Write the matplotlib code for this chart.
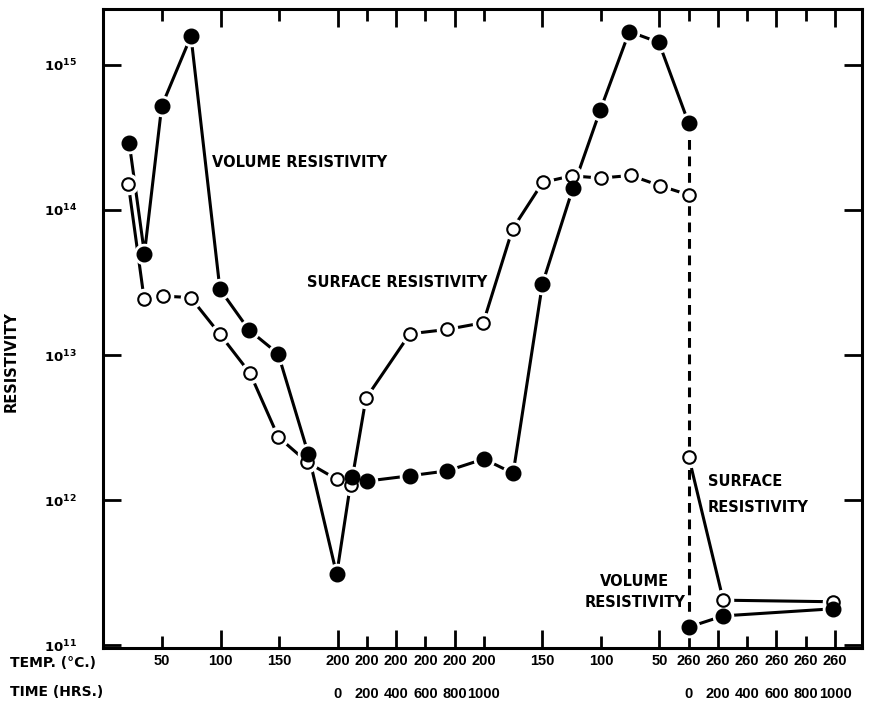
import matplotlib
matplotlib.use("Agg")
import matplotlib.pyplot as plt
from matplotlib.ticker import NullLocator

# ============================================================
# DATOS (eje x = posición en la secuencia de ensayo:
# 1 unidad = 200 h, 2 unidades = escalón de 50 °C)
# ============================================================
VOL_X = [0.88, 1.40, 1.99, 2.99, 3.98, 4.97, 5.97, 7.00, 7.97, 8.48, 8.99,
         10.47, 11.75, 13.00, 14.00, 15.00, 16.04, 16.98, 17.97, 18.98, 20.00,
         20.00, 21.18, 24.94]
VOL_R = [2.9e14, 5.0e13, 5.2e14, 1.58e15, 2.84e13, 1.49e13, 1.02e13, 2.08e12,
         3.07e11, 1.45e12, 1.35e12, 1.47e12, 1.59e12, 1.92e12, 1.53e12,
         3.09e13, 1.41e14, 4.9e14, 1.70e15, 1.43e15, 3.96e14,
         1.33e11, 1.59e11, 1.78e11]

SURF_X = [0.85, 1.39, 2.02, 2.98, 3.98, 5.01, 5.97, 6.97, 7.97, 8.46, 8.97,
          10.47, 11.73, 12.98, 13.98, 15.01, 16.00, 16.99, 18.02, 19.02, 20.00,
          20.00, 21.18, 24.94]
SURF_R = [1.51e14, 2.43e13, 2.55e13, 2.49e13, 1.39e13, 7.48e12, 2.73e12,
          1.82e12, 1.39e12, 1.26e12, 5.03e12, 1.40e13, 1.50e13, 1.67e13,
          7.40e13, 1.55e14, 1.72e14, 1.66e14, 1.73e14, 1.47e14, 1.27e14,
          1.99e12, 2.04e11, 1.99e11]

BREAK = 21  # a partir de aquí: ensayo a 260 °C (caída en línea discontinua)

TICK_POS = [2, 4, 6, 8, 9, 10, 11, 12, 13, 15, 17, 19, 20, 21, 22, 23, 24, 25]
TEMP_LABELS = ["50", "100", "150", "200", "200", "200", "200", "200", "200",
               "150", "100", "50", "260", "260", "260", "260", "260", "260"]
TIME_LABELS = ["", "", "", "0", "200", "400", "600", "800", "1000",
               "", "", "", "0", "200", "400", "600", "800", "1000"]
LONG_TICKS = [4, 8, 10, 12, 15, 19, 21, 23, 25]

Y_TICKS = [1e11, 1e12, 1e13, 1e14, 1e15]
Y_LABELS = ["$10^{11}$", "$10^{12}$", "$10^{13}$", "$10^{14}$", "$10^{15}$"]

# ============================================================
# ESTILO
# ============================================================
plt.rcParams["font.family"] = ["DejaVu Sans"]
plt.rcParams["font.weight"] = "bold"
plt.rcParams["mathtext.default"] = "bf"
TICK_FONT = ["Liberation Sans", "DejaVu Sans"]
LW = 2.2


def draw_series(ax, xs, ys, filled):
    # trazo continuo con corte en la caída vertical
    ax.plot(xs[:BREAK], ys[:BREAK], color="black", lw=LW, zorder=2,
            solid_capstyle="butt")
    ax.plot(xs[BREAK:], ys[BREAK:], color="black", lw=LW, zorder=2,
            solid_capstyle="butt")
    # halo blanco para dejar el hueco entre línea y marcador
    ax.plot(xs, ys, ls="none", marker="o", ms=14.5, mfc="white", mec="white",
            zorder=3)
    if filled:
        ax.plot(xs, ys, ls="none", marker="o", ms=10.5, mfc="black",
                mec="black", zorder=5)
    else:
        ax.plot(xs, ys, ls="none", marker="o", ms=9, mfc="white",
                mec="black", mew=1.5, zorder=4)


fig = plt.figure(figsize=(8.71, 7.12), dpi=100)
ax = fig.add_axes([0.1188, 0.0899, 0.8708, 0.8975])
ax.set_yscale("log")
ax.set_xlim(0, 25.92)
ax.set_ylim(10 ** 10.98, 10 ** 15.386)

# caída vertical discontinua al pasar a 260 °C
ax.plot(VOL_X[BREAK - 1:BREAK + 1], VOL_R[BREAK - 1:BREAK + 1], color="black",
        lw=LW, ls=(0, (3.2, 2.2)), zorder=2)

draw_series(ax, SURF_X, SURF_R, filled=False)
draw_series(ax, VOL_X, VOL_R, filled=True)

# ejes
for sp in ax.spines.values():
    sp.set_linewidth(2.2)

labels = [f"{t}\n{h}" if h else t for t, h in zip(TEMP_LABELS, TIME_LABELS)]
major = [(p, l) for p, l in zip(TICK_POS, labels) if p in LONG_TICKS]
minor = [(p, l) for p, l in zip(TICK_POS, labels) if p not in LONG_TICKS]
ax.set_xticks([p for p, _ in major], [l for _, l in major])
ax.set_xticks([p for p, _ in minor], [l for _, l in minor], minor=True)
ax.tick_params(axis="x", which="major", direction="in", length=13, width=2,
               top=True, pad=4)
ax.tick_params(axis="x", which="minor", direction="in", length=8.5, width=2,
               top=True, pad=4)
for lbl in ax.get_xticklabels() + ax.get_xticklabels(minor=True):
    lbl.set_family(TICK_FONT)
    lbl.set_fontsize(10.5)
    lbl.set_fontweight("bold")
    lbl.set_linespacing(2.8)

ax.set_yticks(Y_TICKS, Y_LABELS)
ax.yaxis.set_minor_locator(NullLocator())
ax.tick_params(axis="y", which="major", direction="in", length=13, width=2,
               right=True, pad=19, labelsize=9.5)

ax.set_ylabel("RESISTIVITY", fontsize=10.5, fontweight="bold")
ax.yaxis.set_label_coords(-0.112, 0.448)

fig.text(10 / 871, 1 - 663 / 712, "TEMP. (°C.)", fontsize=10,
         fontweight="bold", va="center", ha="left")
fig.text(10 / 871, 1 - 692 / 712, "TIME (HRS.)", fontsize=10,
         fontweight="bold", va="center", ha="left")

# rótulos de las curvas
ax.text(3.72, 2.11e14, "VOLUME RESISTIVITY", fontsize=10.5, fontweight="bold",
        va="center", ha="left")
ax.text(6.96, 3.14e13, "SURFACE RESISTIVITY", fontsize=10.5,
        fontweight="bold", va="center", ha="left")
ax.text(20.66, 1.09e12, "SURFACE\nRESISTIVITY", fontsize=10.5,
        fontweight="bold", va="center", ha="left", linespacing=1.9)
ax.text(18.16, 2.32e11, "VOLUME\nRESISTIVITY", fontsize=10.5,
        fontweight="bold", va="center", ha="center", linespacing=1.5)

fig.savefig("out.png", dpi=100)
